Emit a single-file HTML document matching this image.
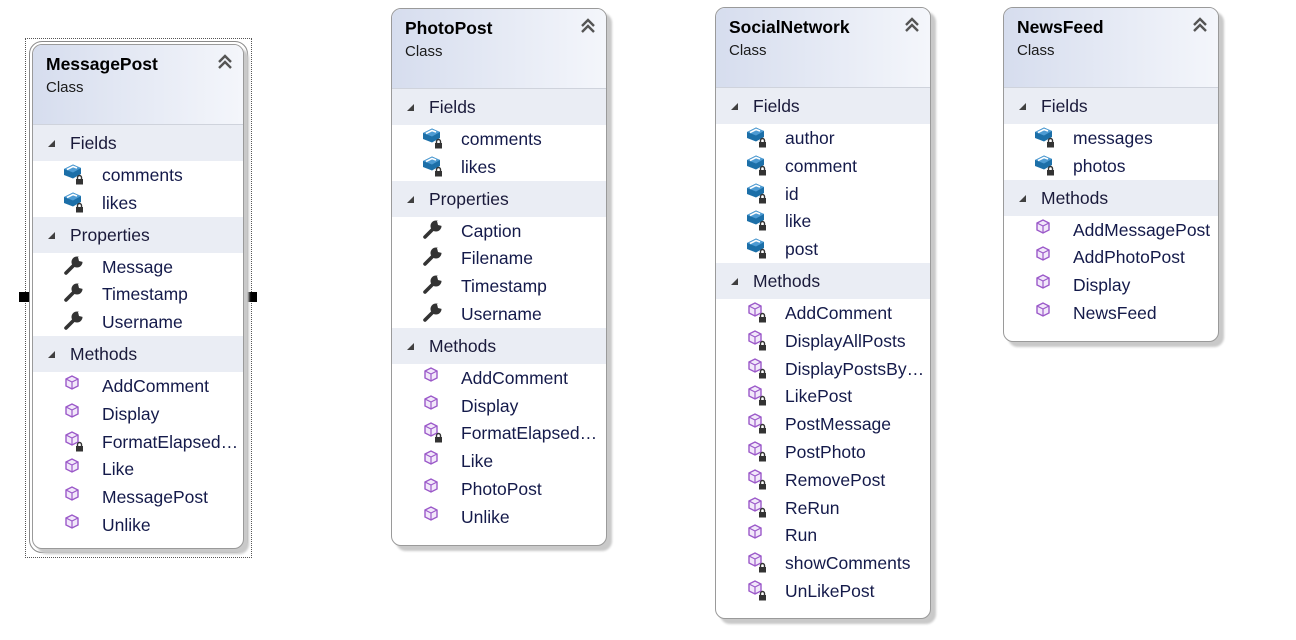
<!DOCTYPE html>
<html><head><meta charset="utf-8">
<style>
body{margin:0;width:1296px;height:640px;background:#fff;position:relative;overflow:hidden;font-family:"Liberation Sans",sans-serif;}
.box{position:absolute;background:#fff;border:1px solid #9a9a9a;border-radius:10px;box-shadow:5px 5px 2px #c9c9c9;overflow:hidden;}
.hd{height:79px;border-bottom:1px solid #cfd3dc;background:linear-gradient(to right,#d6ddee,#f4f6fb);position:relative;}
.ti{position:absolute;left:13px;top:9px;font-weight:bold;font-size:17.5px;color:#000;}
.cl{position:absolute;left:13px;top:34px;font-size:15px;color:#1a1a1a;}
.chev{position:absolute;right:11px;top:9px;}
.sec{height:36px;background:#eaedf4;position:relative;font-size:17.5px;color:#1a1a3a;}
.sec span{position:absolute;left:37px;top:8px;}
.sec i{position:absolute;left:15px;top:15px;width:0;height:0;border-left:7px solid transparent;border-bottom:7px solid #404040;}
.row{height:27.8px;position:relative;font-size:17.5px;color:#141a4a;}
.row span{position:absolute;left:69px;top:4px;white-space:nowrap;}
.row svg{position:absolute;left:30px;top:2px;}
</style></head><body>
<svg width="0" height="0" style="position:absolute">
<defs>
<g id="fld"><path d="M1 6 L10 1.5 L18 5 L18 11 L10 15.5 L1 12Z" fill="#1c6fa8"/><path d="M1 6 L10 1.5 L18 5 L10 9.5Z" fill="#4d9bd3"/><path d="M4 6.5 L10 3.5 L14 5" stroke="#fff" stroke-width="1.6" fill="none"/></g>
<g id="lck"><rect x="13" y="16" width="7" height="5.5" fill="#333"/><path d="M14.5 16 v-1.5 a2 2 0 0 1 4 0 v1.5" stroke="#333" stroke-width="1.4" fill="none"/></g>
<g id="mth"><path d="M3 5 L9 2 L15 5 L15 12 L9 15 L3 12Z" fill="#f2e8fa" stroke="#9b59c9" stroke-width="1.4"/><path d="M3 5 L9 8 L15 5 M9 8 V15" stroke="#9b59c9" stroke-width="1.2" fill="none"/></g>
<g id="wr"><path d="M3 18 L12 9" stroke="#333" stroke-width="3.6" stroke-linecap="round"/><circle cx="14" cy="7" r="5.5" fill="#333"/><path d="M15 2 L20 1 L20 7 L16 6Z" fill="#fff"/></g>
<g id="chv"><path d="M1 8 L7 2 L13 8 M1 14 L7 8 L13 14" stroke="#555" stroke-width="2.4" fill="none"/></g>
</defs></svg>

<!-- MessagePost selection -->
<div style="position:absolute;left:25px;top:38px;width:225px;height:518px;border:1px dotted #555;"></div>
<div style="position:absolute;left:29px;top:41px;width:217px;height:510px;border:1px solid #8a8a8a;border-radius:13px;"></div>
<div style="position:absolute;left:19px;top:292px;width:10px;height:10px;background:#000"></div>
<div style="position:absolute;left:247px;top:292px;width:10px;height:10px;background:#000"></div>

<div class="box" style="left:32px;top:44px;width:210px;height:503px;">
<div class="hd"><div class="ti">MessagePost</div><div class="cl">Class</div><svg class="chev" width="14" height="16"><use href="#chv"/></svg></div>
<div class="sec"><i></i><span>Fields</span></div>
<div class="row"><svg width="22" height="22"><use href="#fld"/><use href="#lck"/></svg><span>comments</span></div>
<div class="row"><svg width="22" height="22"><use href="#fld"/><use href="#lck"/></svg><span>likes</span></div>
<div class="sec"><i></i><span>Properties</span></div>
<div class="row"><svg width="22" height="22"><use href="#wr"/></svg><span>Message</span></div>
<div class="row"><svg width="22" height="22"><use href="#wr"/></svg><span>Timestamp</span></div>
<div class="row"><svg width="22" height="22"><use href="#wr"/></svg><span>Username</span></div>
<div class="sec"><i></i><span>Methods</span></div>
<div class="row"><svg width="22" height="22"><use href="#mth"/></svg><span>AddComment</span></div>
<div class="row"><svg width="22" height="22"><use href="#mth"/></svg><span>Display</span></div>
<div class="row"><svg width="22" height="22"><use href="#mth"/><use href="#lck"/></svg><span>FormatElapsed…</span></div>
<div class="row"><svg width="22" height="22"><use href="#mth"/></svg><span>Like</span></div>
<div class="row"><svg width="22" height="22"><use href="#mth"/></svg><span>MessagePost</span></div>
<div class="row"><svg width="22" height="22"><use href="#mth"/></svg><span>Unlike</span></div>
</div>

<div class="box" style="left:391px;top:8px;width:214px;height:536px;">
<div class="hd"><div class="ti">PhotoPost</div><div class="cl">Class</div><svg class="chev" width="14" height="16"><use href="#chv"/></svg></div>
<div class="sec"><i></i><span>Fields</span></div>
<div class="row"><svg width="22" height="22"><use href="#fld"/><use href="#lck"/></svg><span>comments</span></div>
<div class="row"><svg width="22" height="22"><use href="#fld"/><use href="#lck"/></svg><span>likes</span></div>
<div class="sec"><i></i><span>Properties</span></div>
<div class="row"><svg width="22" height="22"><use href="#wr"/></svg><span>Caption</span></div>
<div class="row"><svg width="22" height="22"><use href="#wr"/></svg><span>Filename</span></div>
<div class="row"><svg width="22" height="22"><use href="#wr"/></svg><span>Timestamp</span></div>
<div class="row"><svg width="22" height="22"><use href="#wr"/></svg><span>Username</span></div>
<div class="sec"><i></i><span>Methods</span></div>
<div class="row"><svg width="22" height="22"><use href="#mth"/></svg><span>AddComment</span></div>
<div class="row"><svg width="22" height="22"><use href="#mth"/></svg><span>Display</span></div>
<div class="row"><svg width="22" height="22"><use href="#mth"/><use href="#lck"/></svg><span>FormatElapsed…</span></div>
<div class="row"><svg width="22" height="22"><use href="#mth"/></svg><span>Like</span></div>
<div class="row"><svg width="22" height="22"><use href="#mth"/></svg><span>PhotoPost</span></div>
<div class="row"><svg width="22" height="22"><use href="#mth"/></svg><span>Unlike</span></div>
</div>

<div class="box" style="left:715px;top:7px;width:214px;height:610px;">
<div class="hd"><div class="ti">SocialNetwork</div><div class="cl">Class</div><svg class="chev" width="14" height="16"><use href="#chv"/></svg></div>
<div class="sec"><i></i><span>Fields</span></div>
<div class="row"><svg width="22" height="22"><use href="#fld"/><use href="#lck"/></svg><span>author</span></div>
<div class="row"><svg width="22" height="22"><use href="#fld"/><use href="#lck"/></svg><span>comment</span></div>
<div class="row"><svg width="22" height="22"><use href="#fld"/><use href="#lck"/></svg><span>id</span></div>
<div class="row"><svg width="22" height="22"><use href="#fld"/><use href="#lck"/></svg><span>like</span></div>
<div class="row"><svg width="22" height="22"><use href="#fld"/><use href="#lck"/></svg><span>post</span></div>
<div class="sec"><i></i><span>Methods</span></div>
<div class="row"><svg width="22" height="22"><use href="#mth"/><use href="#lck"/></svg><span>AddComment</span></div>
<div class="row"><svg width="22" height="22"><use href="#mth"/><use href="#lck"/></svg><span>DisplayAllPosts</span></div>
<div class="row"><svg width="22" height="22"><use href="#mth"/><use href="#lck"/></svg><span>DisplayPostsBy…</span></div>
<div class="row"><svg width="22" height="22"><use href="#mth"/><use href="#lck"/></svg><span>LikePost</span></div>
<div class="row"><svg width="22" height="22"><use href="#mth"/><use href="#lck"/></svg><span>PostMessage</span></div>
<div class="row"><svg width="22" height="22"><use href="#mth"/><use href="#lck"/></svg><span>PostPhoto</span></div>
<div class="row"><svg width="22" height="22"><use href="#mth"/><use href="#lck"/></svg><span>RemovePost</span></div>
<div class="row"><svg width="22" height="22"><use href="#mth"/><use href="#lck"/></svg><span>ReRun</span></div>
<div class="row"><svg width="22" height="22"><use href="#mth"/></svg><span>Run</span></div>
<div class="row"><svg width="22" height="22"><use href="#mth"/><use href="#lck"/></svg><span>showComments</span></div>
<div class="row"><svg width="22" height="22"><use href="#mth"/><use href="#lck"/></svg><span>UnLikePost</span></div>
</div>

<div class="box" style="left:1003px;top:7px;width:214px;height:333px;">
<div class="hd"><div class="ti">NewsFeed</div><div class="cl">Class</div><svg class="chev" width="14" height="16"><use href="#chv"/></svg></div>
<div class="sec"><i></i><span>Fields</span></div>
<div class="row"><svg width="22" height="22"><use href="#fld"/><use href="#lck"/></svg><span>messages</span></div>
<div class="row"><svg width="22" height="22"><use href="#fld"/><use href="#lck"/></svg><span>photos</span></div>
<div class="sec"><i></i><span>Methods</span></div>
<div class="row"><svg width="22" height="22"><use href="#mth"/></svg><span>AddMessagePost</span></div>
<div class="row"><svg width="22" height="22"><use href="#mth"/></svg><span>AddPhotoPost</span></div>
<div class="row"><svg width="22" height="22"><use href="#mth"/></svg><span>Display</span></div>
<div class="row"><svg width="22" height="22"><use href="#mth"/></svg><span>NewsFeed</span></div>
</div>
</body></html>
